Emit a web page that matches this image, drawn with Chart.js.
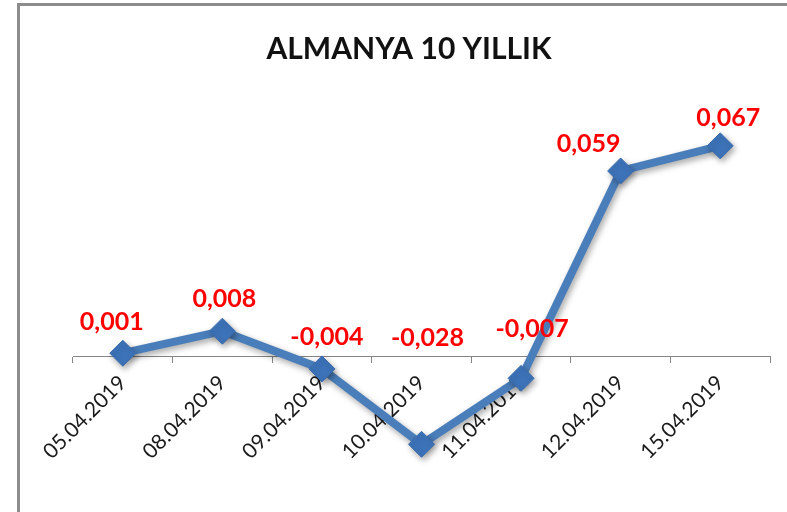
<!DOCTYPE html>
<html>
<head>
<meta charset="utf-8">
<script src="https://cdn.jsdelivr.net/npm/chart.js@4.4.1/dist/chart.umd.min.js"></script>
<style>
  html, body { margin: 0; padding: 0; background: #ffffff; width: 787px; height: 512px; overflow: hidden; }
  #frame { position: absolute; left: 17px; top: 3px; width: 770px; height: 507px;
           border-left: 3px solid #8c8c8c; border-top: 3px solid #8c8c8c; border-bottom: 1px solid #e4e4e4; background: #fff; }
  canvas { display: block; }
</style>
</head>
<body>
<div id="frame"><canvas id="c" width="767" height="505"></canvas></div>
<script>
const chartTitle = "ALMANYA 10 YILLIK";
const categories = ["05.04.2019", "08.04.2019", "09.04.2019", "10.04.2019", "11.04.2019", "12.04.2019", "15.04.2019"];
const values = [0.001, 0.008, -0.004, -0.028, -0.007, 0.059, 0.067];
const yRange = [-0.04, 0.08];

const fmt = v => v.toFixed(3).replace('.', ',');

const decoPlugin = {
  id: 'deco',
  beforeDatasetsDraw(chart) {
    const ctx = chart.ctx;
    ctx.save();
    ctx.shadowColor = 'rgba(0,0,0,0.35)';
    ctx.shadowBlur = 6;
    ctx.shadowOffsetX = 2;
    ctx.shadowOffsetY = 3;
  },
  afterDatasetsDraw(chart, args, opts) {
    const ctx = chart.ctx;
    ctx.restore();
    const meta = chart.getDatasetMeta(0);
    ctx.save();
    ctx.font = 'bold 25px Lato, "Liberation Sans", sans-serif';
    ctx.fillStyle = '#ff0000';
    ctx.textAlign = 'center';
    ctx.textBaseline = 'middle';
    meta.data.forEach((pt, i) => {
      const off = opts.offsets[i] || [0, -30];
      ctx.fillText(fmt(chart.data.datasets[0].data[i]), pt.x + off[0], pt.y + off[1]);
    });
    ctx.restore();
  },
  afterDraw(chart, args, opts) {
    const ctx = chart.ctx;
    ctx.save();
    ctx.font = 'bold 30px Lato, "Liberation Sans", sans-serif';
    ctx.fillStyle = '#111111';
    ctx.textAlign = 'center';
    ctx.textBaseline = 'middle';
    ctx.fillText(chartTitle, opts.titleX, opts.titleY);
    ctx.restore();
  }
};

new Chart(document.getElementById('c'), {
  type: 'line',
  data: {
    labels: categories,
    datasets: [{
      data: values,
      borderColor: '#4A7EBB',
      borderWidth: 8,
      tension: 0,
      fill: false,
      pointStyle: 'rectRot',
      pointRadius: 13,
      pointBackgroundColor: '#3D73B9',
      pointBorderColor: '#3A6CAE',
      pointBorderWidth: 1
    }]
  },
  options: {
    responsive: false,
    animation: false,
    devicePixelRatio: 1,
    layout: { padding: { left: 53, right: 17, top: 99, bottom: 29 } },
    plugins: {
      legend: { display: false },
      title: { display: false },
      tooltip: { enabled: false },
      deco: {
        titleX: 389,
        titleY: 43,
        offsets: [[-11, -31], [2, -32], [5, -32], [6, -106], [11, -49], [-32, -27], [8, -28]]
      }
    },
    scales: {
      y: {
        display: false,
        min: yRange[0],
        max: yRange[1]
      },
      x: {
        position: { y: 0 },
        offset: true,
        afterFit(scale) { scale.height = 0; },
        grid: {
          offset: true,
          drawOnChartArea: false,
          drawTicks: true,
          tickLength: 6,
          color: '#868686',
          lineWidth: 1
        },
        border: { display: true, color: '#868686', width: 1 },
        ticks: {
          autoSkip: false,
          minRotation: 45,
          maxRotation: 45,
          padding: 8,
          color: '#1a1a1a',
          font: { family: 'Lato, "Liberation Sans", sans-serif', size: 21 }
        }
      }
    }
  },
  plugins: [decoPlugin]
});
</script>
</body>
</html>
